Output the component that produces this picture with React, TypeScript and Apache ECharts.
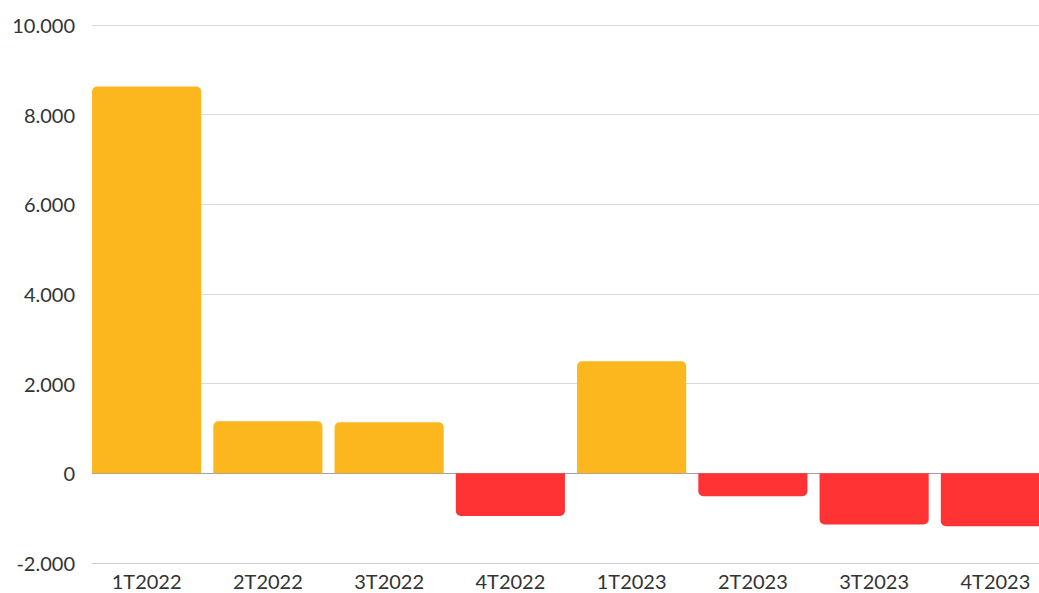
import React, { useEffect, useRef } from "react";
import * as echarts from "echarts";

const categories = ["1T2022", "2T2022", "3T2022", "4T2022", "1T2023", "2T2023", "3T2023", "4T2023"];
const values = [8630, 1160, 1140, -950, 2500, -510, -1140, -1180];
const yMin = -2000;
const yMax = 10000;
const yInterval = 2000;

const POS = "#FDB71E";
const NEG = "#FF3333";

function fmt(v: number): string {
  const s = Math.abs(v).toString().replace(/\B(?=(\d{3})+(?!\d))/g, ".");
  return (v < 0 ? "-" : "") + s;
}

export default function App() {
  const ref = useRef<HTMLDivElement>(null);
  useEffect(() => {
    if (!ref.current) return;
    const chart = echarts.init(ref.current, undefined, { renderer: "svg" });
    const font = "Lato";
    chart.setOption({
      animation: false,
      backgroundColor: "#ffffff",
      grid: [
        { left: 92, right: 21, top: 25, bottom: 30 },
        { left: 86, width: 970, top: 25, bottom: 30 },
      ],
      xAxis: [
        { gridIndex: 0, type: "value", show: false },
        {
          gridIndex: 1,
          type: "category",
          data: categories,
          position: "bottom",
          axisLine: { show: false, onZero: false },
          axisTick: { show: false },
          axisLabel: { fontFamily: font, fontSize: 20, color: "#333", margin: 8 },
        },
      ],
      yAxis: [
        {
          gridIndex: 0,
          type: "value",
          min: yMin,
          max: yMax,
          interval: yInterval,
          axisLine: { show: false },
          axisTick: { show: false },
          axisLabel: {
            fontFamily: font,
            fontSize: 20,
            color: "#333",
            margin: 17,
            formatter: (v: number) => fmt(v),
          },
          splitLine: {
            lineStyle: {
              color: ["#cccccc", "#9ea3ab", "#d9d9d9", "#d9d9d9", "#d9d9d9", "#d9d9d9", "#d9d9d9"],
              width: 1,
            },
          },
        },
        {
          gridIndex: 1,
          type: "value",
          min: yMin,
          max: yMax,
          interval: yInterval,
          show: false,
          splitLine: { show: false },
        },
      ],
      series: [
        {
          type: "bar",
          xAxisIndex: 1,
          yAxisIndex: 1,
          barCategoryGap: "10%",
          data: values.map((v) => ({
            value: v,
            itemStyle: {
              color: v >= 0 ? POS : NEG,
              borderRadius: v >= 0 ? [5, 5, 0, 0] : [0, 0, 5, 5],
            },
          })),
        },
      ],
    });
    return () => chart.dispose();
  }, []);
  return (
    <div
      style={{ position: "absolute", left: 0, top: 0, width: 1039, height: 593, overflow: "hidden" }}
    >
      <div ref={ref} style={{ width: 1060, height: 593 }} />
    </div>
  );
}
